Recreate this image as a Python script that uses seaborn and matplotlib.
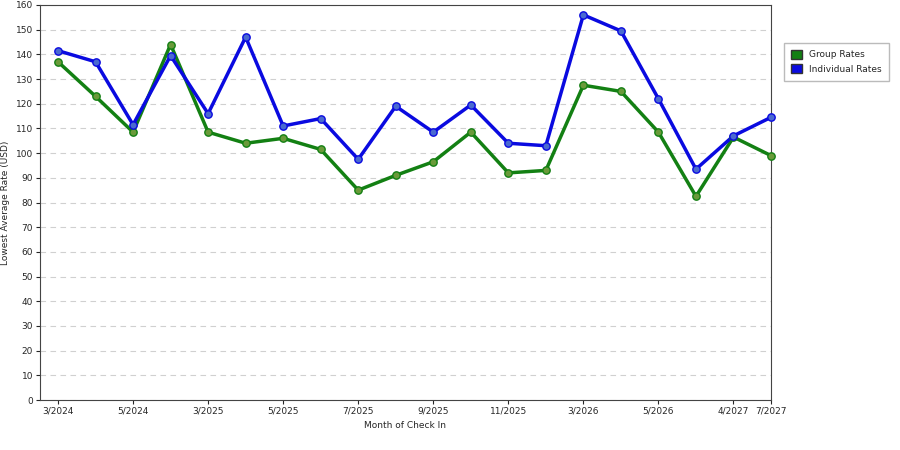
import matplotlib
matplotlib.use("Agg")
import matplotlib.pyplot as plt
import seaborn as sns
import pandas as pd
from matplotlib.patches import Patch

months = ["3/2024","4/2024","5/2024","6/2024","3/2025","4/2025","5/2025","6/2025","7/2025","8/2025",
          "9/2025","10/2025","11/2025","12/2025","3/2026","4/2026","5/2026","6/2026","4/2027","7/2027"]
group = [137,123,108.5,144,108.5,104,106,101.5,85,91,96.5,108.5,92,93,127.5,125,108.5,82.5,106.5,99]
indiv = [141.5,137,111.5,139.5,116,147,111,114,97.5,119,108.5,119.5,104,103,156,149.5,122,93.5,107,114.5]
tick_labels = {0:"3/2024",2:"5/2024",4:"3/2025",6:"5/2025",8:"7/2025",10:"9/2025",12:"11/2025",
               14:"3/2026",16:"5/2026",18:"4/2027",19:"7/2027"}

sns.set_style("white")
plt.rcParams['font.family'] = ['DejaVu Sans']
df = pd.DataFrame({"x": list(range(len(months)))*2, "y": group+indiv,
                   "s": ["Group Rates"]*len(months)+["Individual Rates"]*len(months)})
fig = plt.figure(figsize=(9,4.5), dpi=100)
ax = fig.add_axes([40/900, 50/450, 731/900, 395/450])
pal = {"Group Rates":"#138013","Individual Rates":"#0a0ae0"}
sns.lineplot(data=df, x="x", y="y", hue="s", palette=pal, lw=2.5, ax=ax, legend=False)
for s, c, mfc in [("Group Rates","#138013","#6a9a3a"),("Individual Rates","#0a0ae0","#4a6ad0")]:
    d = df[df.s==s]
    ax.scatter(d.x, d.y, s=28, color=mfc, edgecolor=c, linewidth=1, zorder=3, clip_on=False)
ax.set_xlim(-0.48, len(months)-1)
ax.set_ylim(0,160)
ax.set_yticks(range(0,161,10))
ax.set_xticks(list(tick_labels.keys()))
ax.set_xticklabels(list(tick_labels.values()))
ax.tick_params(labelsize=6.5, length=3, direction="out", left=True, bottom=True, pad=2)
ax.yaxis.grid(True, ls=(0,(5,4)), color="#d0d0d0", lw=0.8)
for sp in ax.spines.values():
    sp.set_color("#444444"); sp.set_linewidth(0.8)
ax.set_xlabel("Month of Check In", fontsize=6.5, labelpad=4)
ax.set_ylabel("Lowest Average Rate (USD)", fontsize=6.5, labelpad=4)
handles = [Patch(facecolor="#138013", edgecolor="#333"), Patch(facecolor="#0a0ae0", edgecolor="#333")]
fig.legend(handles, ["Group Rates","Individual Rates"], loc="upper left",
           bbox_to_anchor=(779/900, 1-38/450), fontsize=6.5, frameon=True, fancybox=False,
           edgecolor="#aaaaaa", handlelength=1.2, handleheight=1.2, borderpad=0.8)
fig.savefig("out.png", dpi=100)
